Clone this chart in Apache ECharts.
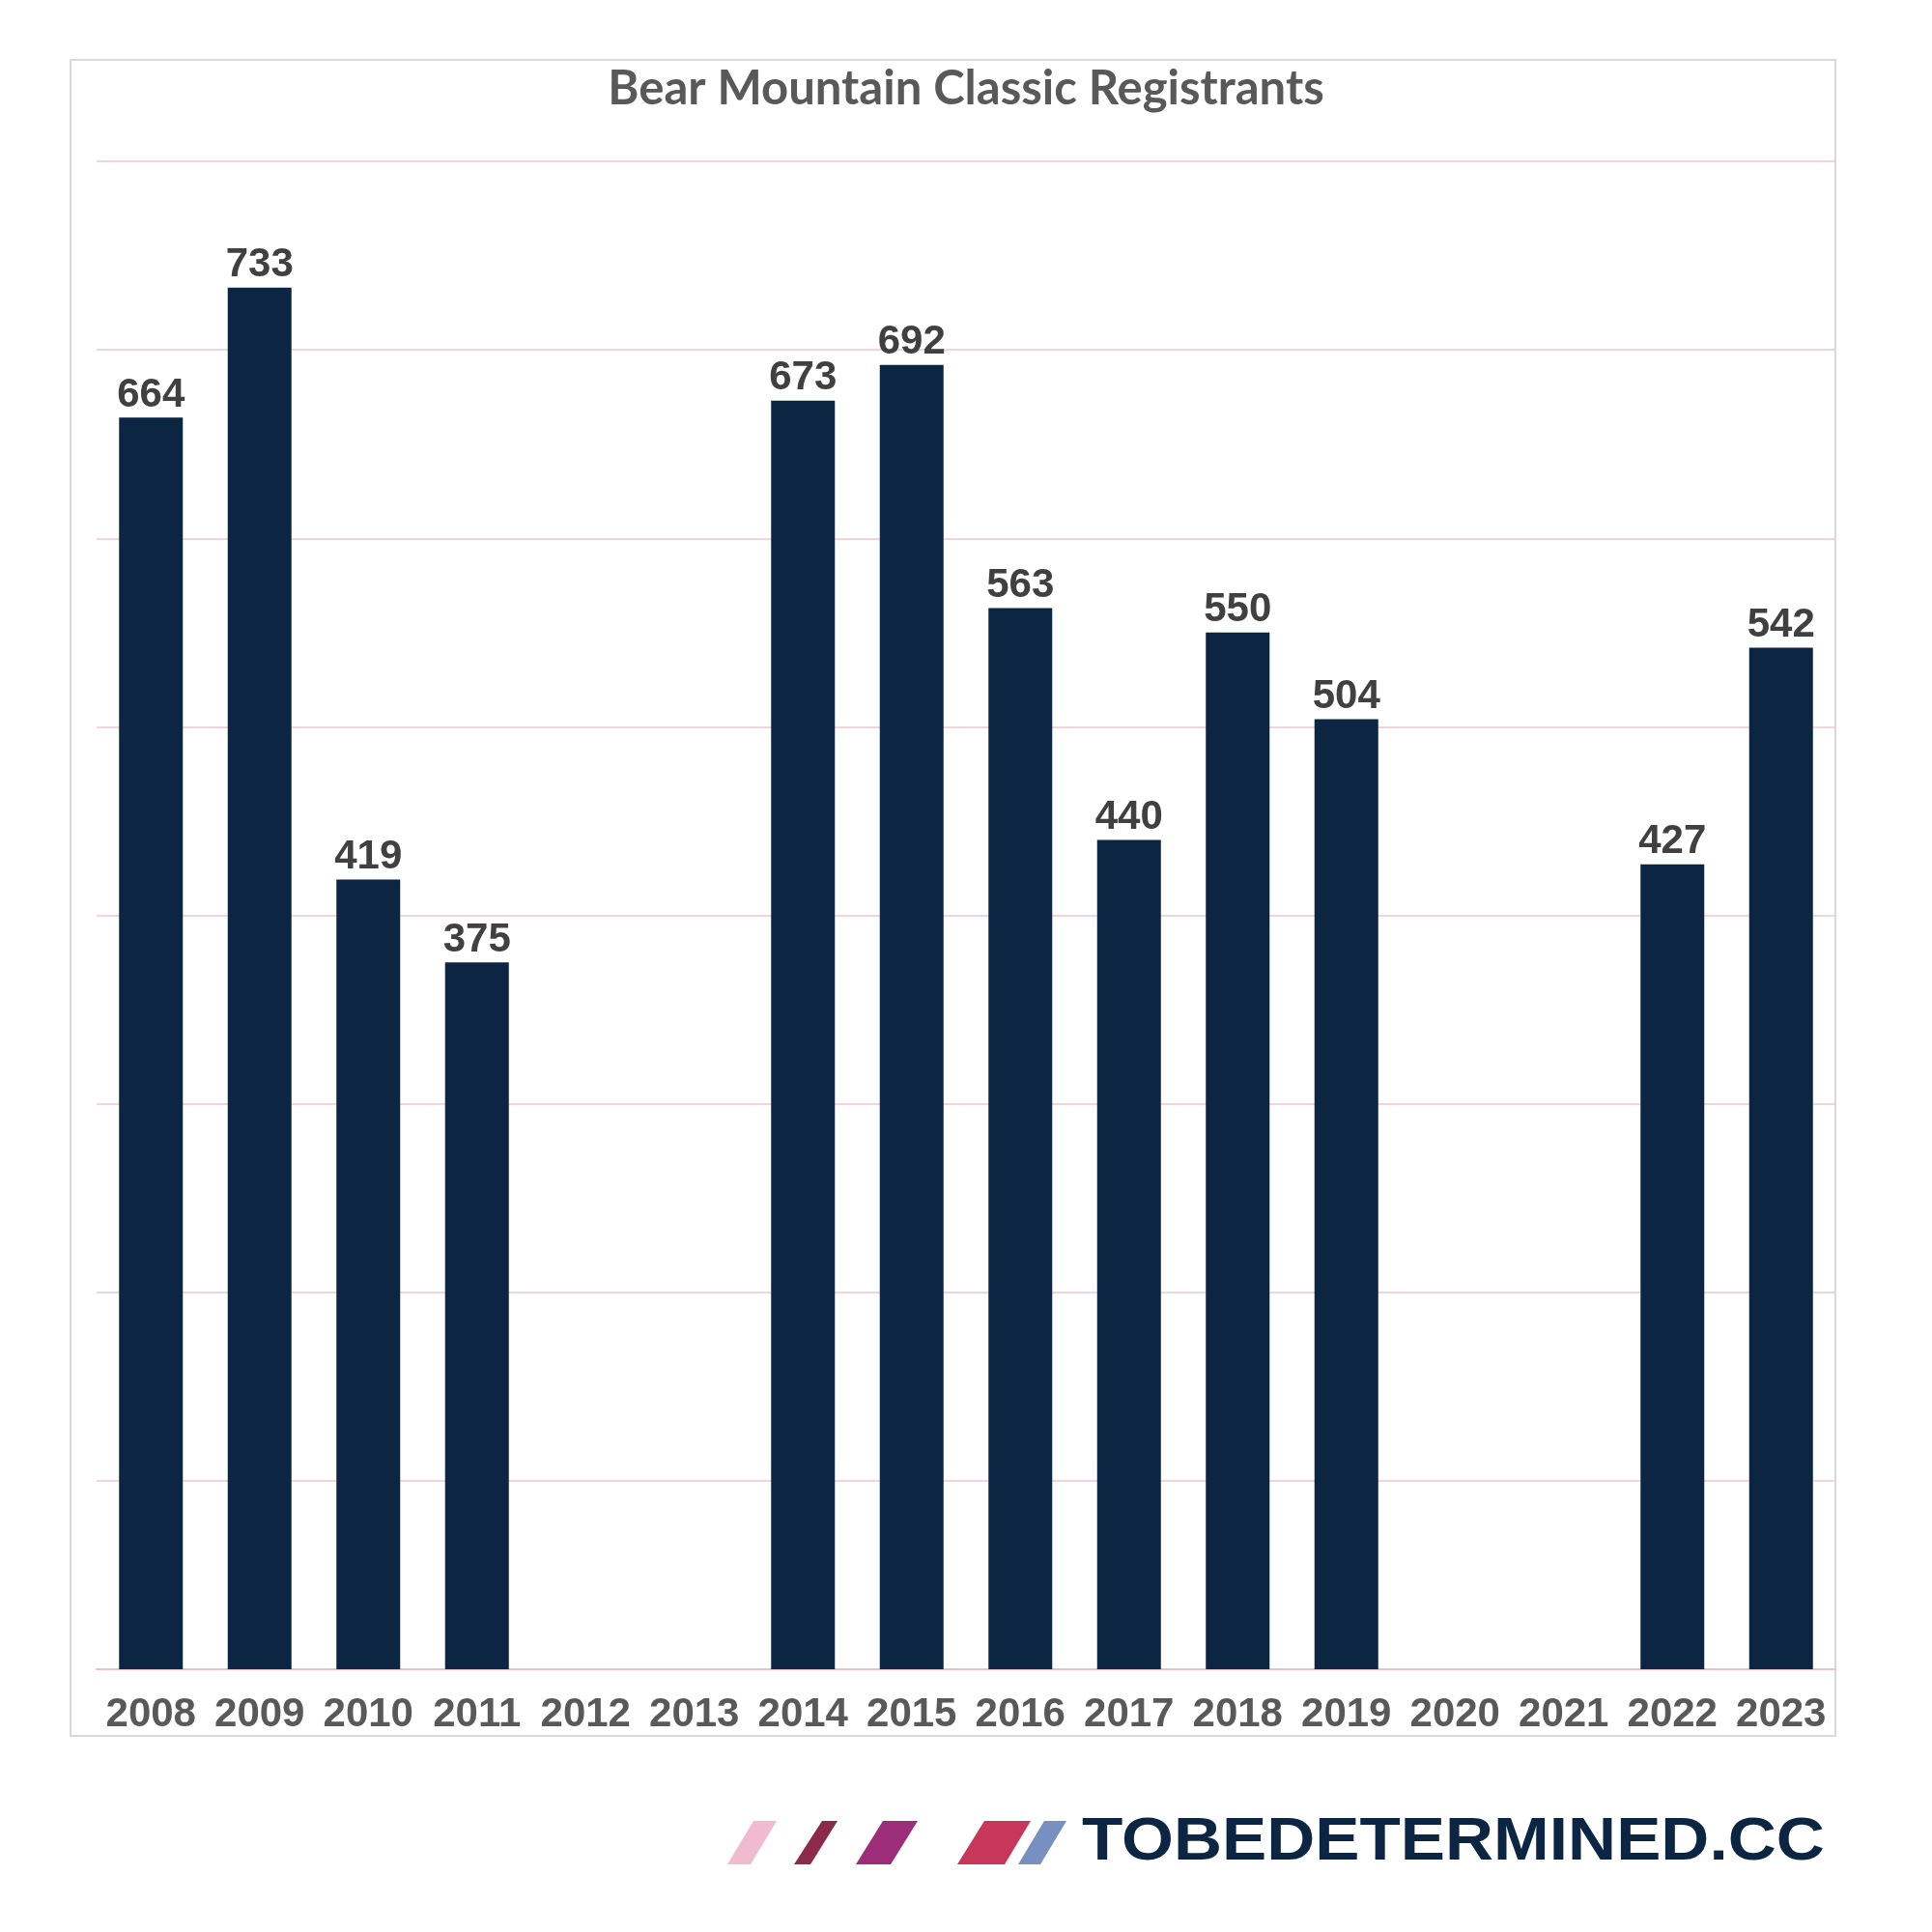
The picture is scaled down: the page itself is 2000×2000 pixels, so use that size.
<!DOCTYPE html>
<html>
<head>
<meta charset="utf-8">
<style>html,body{margin:0;padding:0;background:#fff}#c{width:2000px;height:2000px}</style>
<script src="https://cdn.jsdelivr.net/npm/echarts@6/dist/echarts.min.js"></script>
</head>
<body>
<div id="c"></div>
<script>
const years = ['2008','2009','2010','2011','2012','2013','2014','2015','2016','2017','2018','2019','2020','2021','2022','2023'];
const registrants = [664, 733, 419, 375, null, null, 673, 692, 563, 440, 550, 504, null, null, 427, 542];
const titleText = 'Bear Mountain Classic Registrants';
const logoText = 'TOBEDETERMINED.CC';

const chart = echarts.init(document.getElementById('c'));
function slash(tl, tr, bl, br, top, bot, color){
  return {type:'polygon', shape:{points:[[tl,top],[tr,top],[br,bot],[bl,bot]]}, style:{fill:color}, silent:true};
}
chart.setOption({
  animation:false,
  backgroundColor:'#ffffff',
  title:{text:titleText, left:'center', top:63,
    textStyle:{fontFamily:'Lato', fontWeight:'bold', fontSize:49, color:'#595959'}},
  grid:{left:100, right:100, top:167, bottom:272},
  xAxis:{type:'category', data:years,
    axisLine:{lineStyle:{color:'#EFBCD0', width:2}},
    axisTick:{show:false},
    axisLabel:{fontFamily:'Liberation Sans', fontWeight:'bold', fontSize:42, color:'#595959', margin:26, interval:0}},
  yAxis:{type:'value', min:0, max:800, interval:100,
    axisLabel:{show:false}, axisLine:{show:false}, axisTick:{show:false},
    splitLine:{lineStyle:{color:'#F0C4D5', width:1.5}}},
  series:[{type:'bar', data:registrants, barWidth:66,
    itemStyle:{color:'#0C2542'},
    label:{show:true, position:'top', distance:2, fontFamily:'Liberation Sans', fontWeight:'bold', fontSize:42, color:'#404040'}}],
  graphic:[
    {type:'rect', shape:{x:73, y:62, width:1827, height:1735}, style:{fill:'none', stroke:'#D9D9D9', lineWidth:2}, silent:true, z:-1},
    slash(780,804,753,777,1885,1930,'#F0BBCF'),
    slash(851,867,822,839,1885,1930,'#8B2A4A'),
    slash(914,950,886,922,1885,1930,'#9C2D78'),
    slash(1019,1067,991,1040,1885,1930,'#C8375A'),
    slash(1081,1104,1054,1077,1885,1930,'#7890C0'),
    {type:'text', x:1120, y:1908, scaleX:1.1, style:{text:logoText, fill:'#0C2542', font:'bold 63px "Liberation Sans"', textVerticalAlign:'middle', textAlign:'left'}, silent:true}
  ]
});
</script>
</body>
</html>
